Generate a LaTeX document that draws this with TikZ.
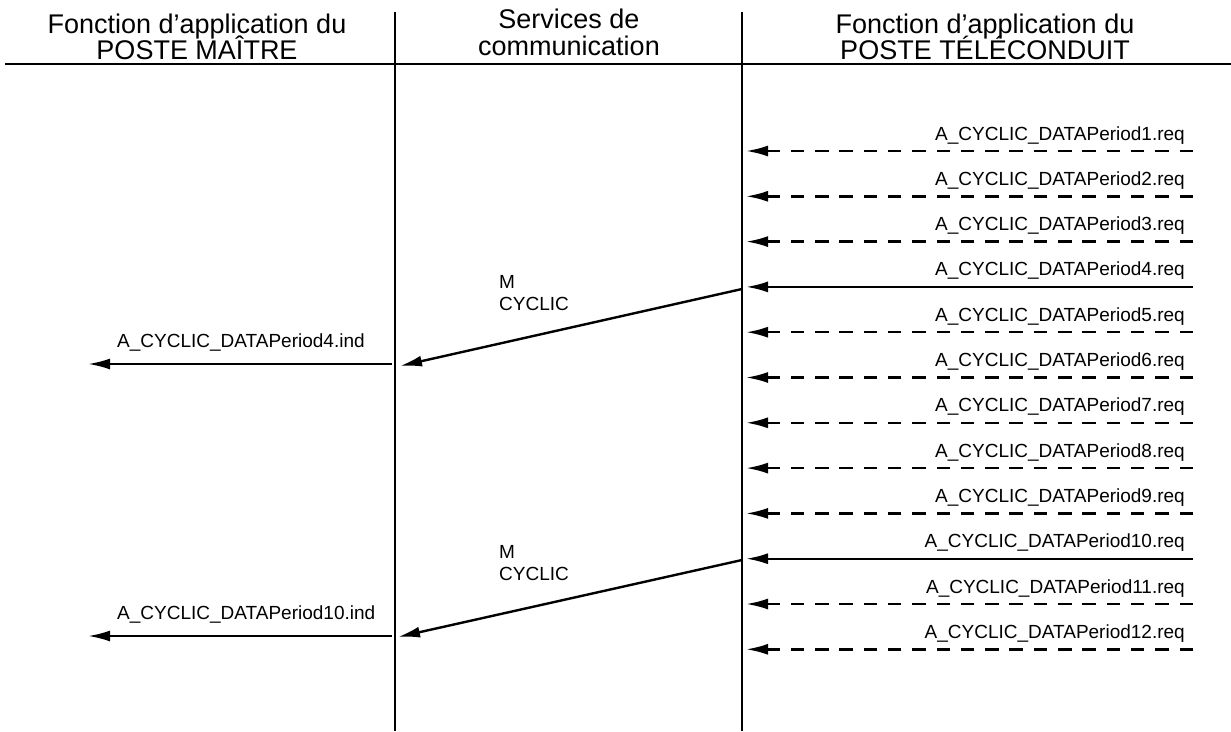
\documentclass[tikz,border=0pt]{standalone}
\usepackage{fontspec}
\setmainfont{Liberation Sans}
\usetikzlibrary{arrows.meta}
\begin{document}
\begin{tikzpicture}[x=1pt,y=-1pt,
  head/.style={font=\fontsize{27}{27}\selectfont, inner sep=0pt, anchor=base},
  msg/.style={font=\fontsize{19}{22}\selectfont, inner sep=0pt},
  lifeline/.style={line width=1.6pt},
  sig/.style={line width=2.4pt, -{Latex[length=22pt,width=11pt]}},
  sigdash/.style={sig, dash pattern=on 13.5pt off 10.8pt}]
\useasboundingbox (0,0) rectangle (1231,731);

% lifelines and header rule
\coordinate (mt) at (395,12);  \coordinate (mb) at (395,731);
\coordinate (ct) at (742,12);  \coordinate (cb) at (742,731);
\coordinate (hl) at (5,64);    \coordinate (hr) at (1231,64);
\draw[lifeline] (mt) -- (mb);
\draw[lifeline] (ct) -- (cb);
\draw[line width=2pt] (hl) -- (hr);

% column headings
\node[head] (hm1) at (197,33) {Fonction d'application du};
\node[head] (hm2) at (197,59) {POSTE MAÎTRE};
\node[head] (hc1) at (569,28) {Services de};
\node[head] (hc2) at (569,55) {communication};
\node[head] (ht1) at (985,33) {Fonction d'application du};
\node[head] (ht2) at (985,59) {POSTE TÉLÉCONDUIT};

% requests from the controlled station
\foreach \i in {1,...,12} {
  \pgfmathsetmacro{\yy}{151+(\i-1)*45.3}
  \coordinate (r\i) at (1193,\yy);
  \coordinate (l\i) at (746,\yy);
  \node[msg, anchor=base east] (q\i) at (1185,\yy-11) {A\_CYCLIC\_DATAPeriod\i.req};
}
\foreach \i in {1,2,3,5,6,7,8,9,11,12} {
  \draw[sigdash] (r\i) -- (l\i);
}
\draw[sig] (r4) -- (l4);
\draw[sig] (r10) -- (l10);

% transfers through the communication services
\coordinate (d4s) at (742,289);  \coordinate (d4e) at (400,366);
\coordinate (d10s) at (742,560); \coordinate (d10e) at (398,637);
\draw[sig] (d4s) -- (d4e);
\draw[sig] (d10s) -- (d10e);
\node[msg, anchor=base west] (m4a) at (499,288) {M};
\node[msg, anchor=base west] (m4b) at (499,310) {CYCLIC};
\node[msg, anchor=base west] (m10a) at (499,558) {M};
\node[msg, anchor=base west] (m10b) at (499,580) {CYCLIC};

% indications at the master station
\coordinate (i4s) at (392,364);  \coordinate (i4e) at (88,364);
\coordinate (i10s) at (392,636); \coordinate (i10e) at (88,636);
\draw[sig] (i4s) -- (i4e);
\draw[sig] (i10s) -- (i10e);
\node[msg, anchor=base west] (n4) at (117,347) {A\_CYCLIC\_DATAPeriod4.ind};
\node[msg, anchor=base west] (n10) at (117,619) {A\_CYCLIC\_DATAPeriod10.ind};
\end{tikzpicture}
\end{document}
